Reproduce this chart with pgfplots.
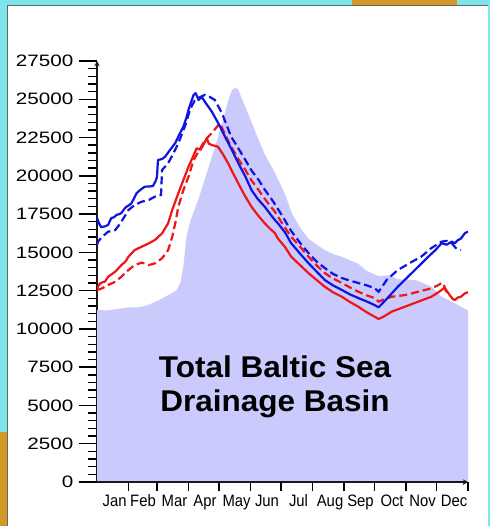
\documentclass[border=0pt]{standalone}
\usepackage{pgfplots}
\pgfplotsset{compat=1.18}
\usepackage{fontspec}
\setmainfont{Liberation Sans}

\definecolor{framecyan}{RGB}{126,230,234}
\definecolor{frameorange}{RGB}{210,152,40}
\definecolor{basinfill}{RGB}{202,202,252}
\definecolor{lineblue}{RGB}{15,20,225}
\definecolor{linered}{RGB}{238,22,22}

% Daily discharge envelope of the whole basin (shaded)
\pgfplotstableread{
day value
0 11250
10 11200
20 11300
30 11400
40 11400
50 11550
60 11850
70 12200
78 12500
82 13000
85 14100
88 16000
92 17100
100 18500
110 20600
118 22300
124 23700
130 25100
133 25600
136 25750
139 25650
142 25100
146 24500
155 23000
165 21400
175 20200
185 18800
192 17500
200 16600
208 15900
216 15500
224 15150
232 14900
241 14700
250 14450
257 14250
265 13800
277 13450
288 13500
296 13250
313 13200
329 12760
339 12100
349 11780
358 11450
365 11200
}\basin

\pgfplotsset{
  basinaxis/.style={
    at={(97pt,44pt)}, anchor=south west,
    scale only axis, width=371pt, height=421pt,
    xmin=0, xmax=365, ymin=0, ymax=27500,
    axis line style={-, line width=1.3pt, black!90},
    every tick/.style={black, line width=1.4pt},
  },
  curve/.style={line width=2.2pt, line join=round},
  dashcurve/.style={line width=2.2pt, dash pattern=on 8pt off 4pt},
}

\begin{document}
\begin{tikzpicture}
\useasboundingbox (0pt,0pt) rectangle (490pt,526pt);
% slide frame
\fill[framecyan] (0pt,0pt) rectangle (490pt,526pt);
\fill[frameorange] (352pt,521pt) rectangle (457pt,526pt);
\fill[frameorange] (0pt,0pt) rectangle (7pt,94pt);
\fill[white] (7pt,0pt) rectangle (488pt,521pt);
\draw[black!60, line width=0.8pt] (7.4pt,0pt) -- (7.4pt,520.6pt) -- (488pt,520.6pt);

\begin{axis}[basinaxis,
  axis x line=bottom, axis y line=left,
  ytick align=outside,
  xtick=\empty,
  scaled y ticks=false,
  ytick={0,2500,5000,7500,10000,12500,15000,17500,20000,22500,25000,27500},
  yticklabels={0,2500,5000,7500,10000,12500,15000,17500,20000,22500,25000,27500},
  minor y tick num=4,
  major tick length=18pt, minor tick length=9pt,
  yticklabel style={font=\fontsize{16.5}{16.5}\selectfont, xscale=1.25, anchor=east, xshift=-1pt},
]
\addplot[draw=none, fill=basinfill] table[x=day, y=value] {\basin} \closedcycle;

% red dashed
\addplot[dashcurve, linered] coordinates {
(0,12540) (5,12650) (11,12870) (18,13080) (24,13410) (31,13850) (37,14170)
(44,14330) (48,14250) (51,14170) (57,14280) (64,14610) (70,15150) (74,16020)
(77,16900) (80,17980) (85,19070) (90,19940) (95,21030) (100,21600) (105,22200)
(110,22600) (113,22800) (118,23200) (121,23430) (126,22700) (132,21900)
(139,21100) (146,20380) (152,19700) (159,19070) (165,18500) (172,17900)
(175,17660) (183,16800) (191,16020) (200,15350) (208,14720) (216,14150)
(224,13650) (232,13300) (241,13000) (249,12700) (257,12430) (265,12200)
(273,12020) (277,11780) (283,11950) (290,12100) (303,12210) (316,12430)
(329,12650) (336,12870) (339,13000) (341,12950) (343,12500) (346,12300)};

% red solid
\addplot[curve, linered] coordinates {
(0,12650) (3,12980) (8,13100) (11,13410) (15,13600) (18,13740) (24,14170)
(28,14400) (31,14720) (37,15150) (44,15370) (51,15590) (57,15810) (64,16240)
(70,16900) (74,17770) (80,18860) (85,19730) (90,20600) (93,21030) (98,21800)
(102,21700) (108,22450) (110,22100) (113,22010) (119,21900) (124,21400)
(129,20820) (134,20150) (139,19510) (145,18750) (152,17980) (158,17450)
(165,16900) (171,16500) (175,16260) (178,15900) (185,15350) (191,14720)
(200,14150) (208,13650) (216,13200) (224,12760) (232,12400) (241,12100)
(249,11750) (257,11450) (265,11100) (273,10800) (277,10650) (282,10800)
(290,11130) (303,11450) (316,11780) (329,12100) (336,12400) (339,12540)
(342,12700) (345,12400) (347,12210) (350,11950) (352,11890) (355,12050)
(358,12100) (362,12320) (365,12400)};

% blue dashed
\addplot[dashcurve, lineblue] coordinates {
(0,15480) (1,15700) (5,16020) (11,16350) (18,16460) (23,16900) (27,17330)
(31,17770) (37,18090) (44,18310) (51,18420) (57,18640) (63,18750) (64,20380)
(70,20820) (75,21450) (80,22120) (87,23330) (92,24400) (96,24900) (100,25100)
(106,25280) (111,25150) (116,24950) (123,24080) (132,22550) (139,21800)
(146,21030) (152,20350) (159,19730) (165,19100) (172,18450) (175,18150)
(183,17300) (191,16400) (200,15600) (208,14960) (216,14400) (224,13980)
(232,13600) (241,13320) (249,13150) (257,13000) (265,12850) (273,12670)
(277,12430) (280,12700) (285,13200) (296,13850) (310,14390) (319,14720)
(329,15280) (339,15700) (344,15750) (349,15600) (353,15280) (358,15150)};

% blue solid
\addplot[curve, lineblue] coordinates {
(0,17250) (2,16900) (4,16650) (8,16700) (11,16800) (14,17240) (17,17300)
(19,17440) (22,17500) (24,17570) (27,17850) (29,17980) (32,18100) (34,18220)
(37,18600) (39,18870) (43,19100) (47,19290) (51,19300) (55,19330) (58,19700)
(59,19940) (60,21030) (64,21100) (67,21250) (72,21700) (77,22140) (81,22700)
(85,23210) (88,23800) (90,24300) (93,24900) (95,25280) (97,25400) (100,24950)
(103,25150) (107,24750) (113,24190) (120,23350) (126,22550) (133,21650)
(139,20830) (146,19950) (152,19070) (158,18500) (165,17980) (171,17450)
(175,17110) (178,16900) (185,16300) (191,15600) (200,14900) (208,14300)
(216,13750) (224,13200) (232,12850) (241,12540) (249,12250) (257,12020)
(265,11800) (273,11560) (277,11410) (282,11750) (287,12100) (296,12760)
(306,13410) (316,14060) (326,14720) (333,15150) (339,15600) (344,15500)
(349,15700) (352,15600) (355,15800) (358,15900) (362,16260) (365,16350)};
\end{axis}

% month axis: ticks at month ends, names centred on each month
\begin{axis}[basinaxis,
  axis x line=bottom, axis y line=none,
  xtick align=outside,
  ytick=\empty,
  xtick={31,59,90,120,151,181,212,243,273,304,334,365},
  xticklabels={Jan,Feb,Mar,Apr,May,Jun,Jul,Aug,Sep,Oct,Nov,Dec},
  major tick length=9pt,
  major tick style={black, line width=1.5pt},
  xticklabel style={font=\fontsize{16.5}{16.5}\selectfont, xscale=0.9, xshift=-15.5pt, yshift=-0.5pt},
  clip=false,
]
\pgfplotsinvokeforeach{31,59,90,120,151,181,212,243,273,304,334,365}{
  \draw[black, line width=1.5pt] (axis cs:#1,0) -- ++(0pt,-9pt);
}
\end{axis}

\node[font=\bfseries\fontsize{30}{30}\selectfont, xscale=1.05, anchor=base] at (275pt,148pt) {Total Baltic Sea};
\node[font=\bfseries\fontsize{30}{30}\selectfont, xscale=1.05, anchor=base] at (275pt,114pt) {Drainage Basin};
\end{tikzpicture}
\end{document}
